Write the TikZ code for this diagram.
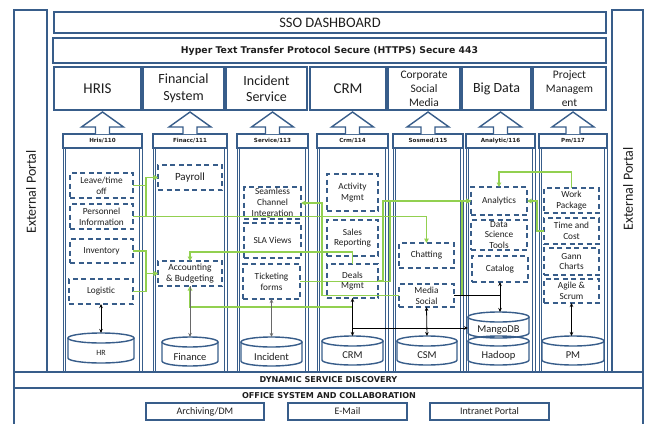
\documentclass[tikz,border=0pt]{standalone}
\usepackage{fontspec}
\setmainfont{Carlito}
\newfontfamily\vb{DejaVu Sans}
\usetikzlibrary{arrows.meta}
\definecolor{bl}{RGB}{56,93,138}
\definecolor{gr}{RGB}{146,208,80}
\definecolor{tx}{RGB}{30,30,30}
\definecolor{gy}{RGB}{105,105,105}
\newcommand\bx[7]{\node[#1,anchor=north west,minimum width={(#5-#3)*1pt},minimum height={(#6-#4)*1pt}] (#2) at (#3,#4) {#7};}
\newcommand\cyl[7][10.5]{%
  \node[inner sep=0pt,outer sep=0pt,anchor=north west,minimum width={(#5-#3)*1pt},minimum height={(#6-#4)*1pt}] (#2) at (#3,#4) {};
  \draw[cylst] ({(#3+#5)/2},{#4+5}) ellipse [x radius={(#5-#3)/2*1pt}, y radius=5pt];
  \draw[cylst] (#3,{#4+5}) -- (#3,{#6-5}) arc[start angle=180,end angle=360,x radius={(#5-#3)/2*1pt},y radius=5pt] -- (#5,{#4+5});
  \node[text=tx,inner sep=0pt,font=\fontsize{#1}{12}\selectfont] (#2t) at ({(#3+#5)/2},{(#4+10+#6)/2}) {#7};}
\newcommand\harr[1]{\draw[harst] (#1.north) ++(-7,0) -- ++(0,-7) -- ++(-14,0) -- ++(21,-15) -- ++(21,15) -- ++(-14,0) -- ++(0,7);}
\tikzset{
  portal/.style={draw=bl,line width=1.4pt,inner sep=0pt,outer sep=0pt},
  hdr/.style={draw=bl,line width=1.8pt,inner sep=0pt,outer sep=0pt,align=center,text=tx},
  lbl/.style={draw=bl,fill=white,line width=1.8pt,inner sep=0pt,outer sep=0pt,text=tx,font=\vb\bfseries\fontsize{5.6}{6}\selectfont},
  colb/.style={draw=bl,line width=0.8pt},
  dbox/.style={draw=bl,line width=1.5pt,dash pattern=on 5pt off 3.5pt,inner sep=0pt,outer sep=0pt,align=center,text=tx,font=\fontsize{9.3}{10.8}\selectfont},
  obox/.style={draw=bl,line width=1.4pt,inner sep=0pt,outer sep=0pt,text=tx,font=\fontsize{10}{12}\selectfont},
  cylst/.style={draw=bl,line width=1.4pt},
  harst/.style={draw=bl,line width=1.4pt,fill=white},
  grn/.style={draw=gr,line width=1.4pt,-{Triangle[length=4.5pt,width=4.5pt]}},
  blk/.style={draw=black,line width=0.8pt},
  gry/.style={draw=gy,line width=0.9pt},
  tip/.style={-{Stealth[length=4pt,width=3.5pt]}},
  tips/.style={{Stealth[length=4pt,width=3.5pt]}-{Stealth[length=4pt,width=3.5pt]}}
}
\begin{document}
\begin{tikzpicture}[x=1pt,y=-1pt]
\useasboundingbox (0,0) rectangle (645,423);
% portals
\bx{portal}{lp}{14}{10}{47}{372}{}
\node[rotate=90,text=tx,font=\fontsize{14}{16}\selectfont] (lpt) at (31,192) {External Portal};
\bx{portal}{rp}{612}{10}{643}{372}{}
\node[rotate=90,text=tx,font=\fontsize{14}{16}\selectfont] (rpt) at (628,189) {External Portal};
% top bars
\bx{hdr,font=\fontsize{14.5}{16}\selectfont}{sso}{54}{12}{606}{33}{SSO DASHBOARD}
\bx{hdr,font=\vb\bfseries\fontsize{9.3}{11}\selectfont}{https}{53}{38}{606}{63}{Hyper Text Transfer Protocol Secure (HTTPS) Secure 443}
% module headers
\bx{hdr,font=\fontsize{15}{16}\selectfont}{h1}{54}{67}{141}{110}{HRIS}
\bx{hdr,font=\fontsize{14}{16.5}\selectfont}{h2}{143}{67}{224}{110}{Financial\\System}
\bx{hdr,font=\fontsize{14}{16.5}\selectfont}{h3}{226}{67}{307}{110}{Incident\\Service}
\bx{hdr,font=\fontsize{15}{16}\selectfont}{h4}{310}{67}{386}{110}{CRM}
\bx{hdr,font=\fontsize{11.5}{14}\selectfont}{h5}{388}{67}{460}{110}{Corporate\\Social\\Media}
\bx{hdr,font=\fontsize{14}{16}\selectfont}{h6}{462}{67}{531}{110}{Big Data}
\bx{hdr,font=\fontsize{11.5}{14}\selectfont}{h7}{533}{67}{606}{110}{Project\\Managem\\ent}
% column bodies (double outline)
\foreach \xa/\xb in {63/142,153/227,237/308,317/388,393/463,466/535,539/607}{
  \draw[colb] (\xa,148) rectangle (\xb,372);
  \draw[colb] (\xa+2.2,148) -- (\xa+2.2,372) (\xb-2.2,148) -- (\xb-2.2,372);
}
% column labels
\bx{lbl}{l1}{63}{134}{142}{148}{Hris/110}
\bx{lbl}{l2}{153}{134}{227}{148}{Finacc/111}
\bx{lbl}{l3}{237}{134}{308}{148}{Service/113}
\bx{lbl}{l4}{317}{134}{388}{148}{Crm/114}
\bx{lbl}{l5}{393}{134}{463}{148}{Sosmed/115}
\bx{lbl}{l6}{466}{134}{535}{148}{Analytic/116}
\bx{lbl}{l7}{539}{134}{607}{148}{Pm/117}
\harr{l1}\harr{l2}\harr{l3}\harr{l4}\harr{l5}\harr{l6}\harr{l7}
% dashed function boxes
\bx{dbox}{leave}{70}{173}{133}{198}{Leave/time\\off}
\bx{dbox}{pers}{70}{204}{133}{229}{Personnel\\Information}
\bx{dbox}{inv}{70}{239}{133}{263}{Inventory}
\bx{dbox}{logi}{69}{279}{133}{304}{Logistic}
\bx{dbox,font=\fontsize{11}{12}\selectfont}{pay}{158}{165}{222}{190}{Payroll}
\bx{dbox,font=\fontsize{9.5}{10.5}\selectfont}{acc}{158}{261}{222}{286}{Accounting\\\& Budgeting}
\bx{dbox}{seam}{244}{187}{301}{219}{Seamless\\Channel\\Integration}
\bx{dbox}{sla}{244}{223}{301}{258}{SLA Views}
\bx{dbox}{tick}{243}{264}{300}{299}{Ticketing\\forms}
\bx{dbox}{act}{327}{174}{378}{211}{Activity\\Mgmt}
\bx{dbox}{sales}{327}{220}{378}{256}{Sales\\Reporting}
\bx{dbox}{deals}{327}{264}{378}{298}{Deals\\Mgmt}
\bx{dbox}{chat}{399}{243}{454}{268}{Chatting}
\bx{dbox}{media}{399}{284}{454}{307}{Media\\Social}
\bx{dbox}{anal}{471}{187}{527}{215}{Analytics}
\bx{dbox}{dst}{471}{220}{527}{250}{Data\\Science\\Tools}
\bx{dbox}{cat}{472}{256}{528}{282}{Catalog}
\bx{dbox}{wp}{544}{188}{599}{213}{Work\\Package}
\bx{dbox}{tc}{544}{218}{599}{244}{Time and\\Cost}
\bx{dbox}{gann}{544}{248}{599}{275}{Gann\\Charts}
\bx{dbox}{agile}{544}{279}{599}{303}{Agile \&\\Scrum}
% databases
\cyl[8]{hr}{68}{333}{134}{363}{HR}
\cyl{fin}{162}{337}{218}{366}{Finance}
\cyl{inc}{241}{337}{302}{366}{Incident}
\cyl{crmdb}{322}{336}{383}{365}{CRM}
\cyl{csm}{397}{336}{457}{365}{CSM}
\cyl{hadoop}{468}{336}{529}{365}{Hadoop}
\cyl{mango}{468}{312}{529}{338}{MangoDB}
\cyl{pmdb}{542}{336}{604}{365}{PM}
% green flows
\draw[grn] (leave.east) -- ++(13,0) |- (pay.west);
\draw[grn] (pers.east) -- ++(13,0) |- (pay.west);
\draw[grn] (pers.east) -| (chat.north);
\draw[grn] (inv.east) -- ++(13,0) |- (acc.west);
\draw[grn] (logi.east) -- ++(13,0) |- (acc.west);
\draw[grn] (deals.north) -- ++(0,-12) -| (acc.north);
\draw[grn] (deals.south) -- ++(0,9) -| (acc.south);
\draw[grn] (media.west) -- ++(-77,0) |- (seam.east);
\draw[grn] (tick.east) -- ++(90,0) |- (anal.west);
\draw[grn] (deals.east) -- ++(5,0) |- (anal.west);
\draw[grn] (media.east) -- ++(8,0) |- (anal.west);
\draw[grn] (wp.north) -- ++(0,-16) -| (anal.north);
\draw[grn] (tc.west) -- ++(-7,0) |- (anal.east);
% data links
\draw[blk,tips] (logi.south) -- (hr.north);
\draw[gry,tip] (acc.south) -- (fin.north);
\draw[gry,tips] (tick.south) -- (inc.north);
\draw[blk,tips] (deals.south) -- (crmdb.north);
\draw[blk,tip] (crmdb.north) ++(0,-8) -- ([yshift=-3pt]mango.west);
\draw[blk,tips] (media.south) -- (csm.north);
\draw[blk] (media.east) -- (media.east -| cat.south);
\draw[blk,tips] (cat.south) -- (cat.south |- mango.north);
\draw[blk,tips] (agile.south) -- (agile.south |- pmdb.north);
% bottom layers
\bx{portal,text=tx,font=\vb\bfseries\fontsize{8.1}{9}\selectfont}{dyn}{14}{372}{643}{388}{DYNAMIC SERVICE DISCOVERY}
\bx{portal}{office}{14}{388}{643}{428}{}
\node[text=tx,font=\vb\bfseries\fontsize{8.1}{9}\selectfont] (offt) at (329,395.5) {OFFICE SYSTEM AND COLLABORATION};
\bx{obox}{arch}{146}{403}{264}{420}{Archiving/DM}
\bx{obox}{mail}{288}{403}{407}{420}{E-Mail}
\bx{obox}{intra}{430}{403}{549}{420}{Intranet Portal}
\end{tikzpicture}
\end{document}
